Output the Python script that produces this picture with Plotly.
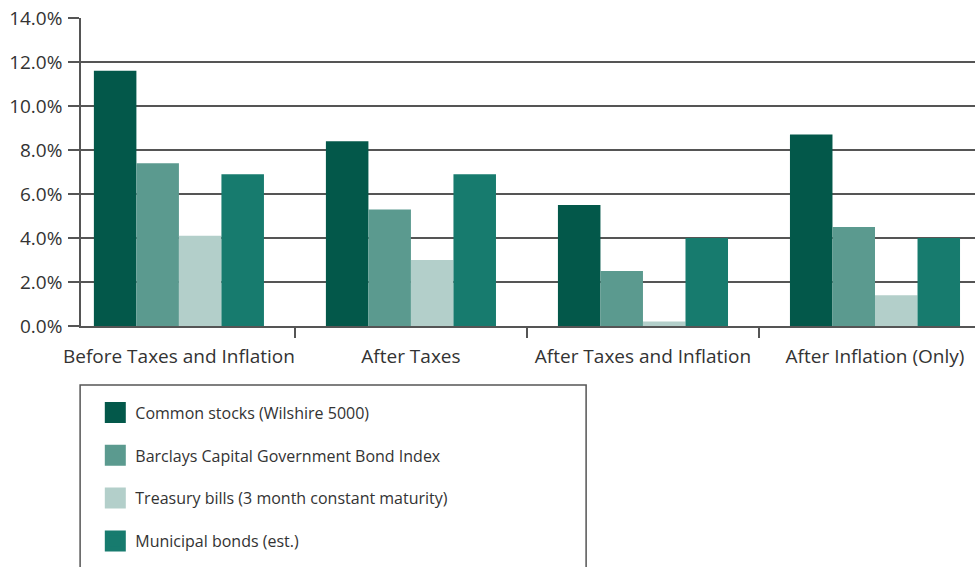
import plotly.graph_objects as go

categories = ["Before Taxes and Inflation", "After Taxes",
              "After Taxes and Inflation", "After Inflation (Only)"]

series_names = ["Common stocks (Wilshire 5000)",
                "Barclays Capital Government Bond Index",
                "Treasury bills (3 month constant maturity)",
                "Municipal bonds (est.)"]

stocks = [11.6, 8.4, 5.5, 8.7]
gov_bonds = [7.4, 5.3, 2.5, 4.5]
tbills = [4.1, 3.0, 0.2, 1.4]
muni_bonds = [6.9, 6.9, 4.0, 4.0]

y_ticks = [0, 2, 4, 6, 8, 10, 12, 14]
y_tick_labels = [f"{v:.1f}%" for v in y_ticks]

colors = ["#03584a", "#5b9a8f", "#b3cfca", "#177b6e"]
values = [stocks, gov_bonds, tbills, muni_bonds]

font = "Open Sans"
axis_col = "#555555"
text_col = "#333333"

fig = go.Figure()

for name, vals, col in zip(series_names, values, colors):
    fig.add_trace(go.Bar(x=categories, y=vals, name=name, marker_color=col,
                         marker_line_width=0, showlegend=False))

# legend-only markers so the swatches are bigger than plotly's bar icons
for i, (name, col) in enumerate(zip(series_names, colors)):
    fig.add_trace(go.Scatter(x=[None], y=[None], mode="markers", name=name,
                             legendgroup=f"g{i}",
                             marker=dict(symbol="square", size=16, color=col,
                                         line=dict(color=col, width=5))))

fig.update_layout(
    width=975, height=567,
    margin=dict(l=81, r=0, t=18, b=241),
    plot_bgcolor="white", paper_bgcolor="white",
    barmode="group", bargap=0.267, bargroupgap=0,
    font=dict(family=font, color=text_col),
    showlegend=True,
    legend=dict(x=0.016, xanchor="left", y=-0.226, yanchor="top",
                orientation="v", font=dict(size=16, color=text_col),
                tracegroupgap=19, borderwidth=0, bgcolor="rgba(0,0,0,0)"),
    shapes=[dict(type="rect", xref="paper", yref="paper",
                 x0=-0.001, x1=0.565, y0=-0.1916, y1=-0.8,
                 line=dict(color=axis_col, width=1.5))],
)

fig.update_xaxes(
    range=[-0.422, 3.431], automargin=False, tickangle=0,
    tickson="boundaries", ticks="outside", ticklen=10, tickcolor=axis_col,
    tickwidth=1.5, showline=True, linecolor=axis_col, linewidth=1.5,
    ticklabelstandoff=12,
    tickfont=dict(size=19, color=text_col), showgrid=False,
)

fig.update_yaxes(
    range=[0, 14], tickvals=y_ticks, ticktext=y_tick_labels, automargin=False,
    ticks="outside", ticklen=11, tickcolor=axis_col, tickwidth=1.5,
    showline=True, linecolor=axis_col, linewidth=1.5, ticklabelstandoff=2,
    showgrid=True, gridcolor=axis_col, gridwidth=1.5, zeroline=False,
    tickfont=dict(size=19, color=text_col),
)

# drop the page's default 8px body margin so the figure sits at the corner
fig.write_html("out.html", config={"displayModeBar": False},
               post_script="document.body.style.margin='0px';")
